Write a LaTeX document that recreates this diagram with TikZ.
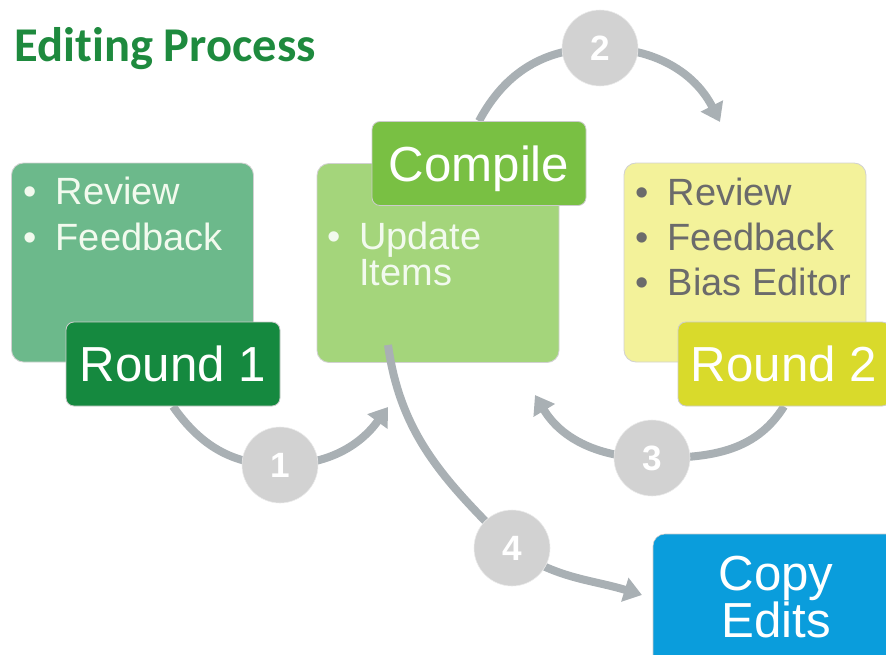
\documentclass[tikz,border=0pt]{standalone}
\usepackage{fontspec}
\setmainfont{Liberation Sans}
\newfontfamily\headfont[Ligatures=NoCommon]{Carlito}
\usetikzlibrary{arrows.meta}

\definecolor{titlegreen}{HTML}{1E8A3E}
\definecolor{roneFill}{HTML}{6CB98B}
\definecolor{roneDark}{HTML}{15893F}
\definecolor{compFill}{HTML}{A4D57B}
\definecolor{compDark}{HTML}{79C043}
\definecolor{rtwoFill}{HTML}{F3F29A}
\definecolor{rtwoDark}{HTML}{D9DA2B}
\definecolor{copyBlue}{HTML}{0A9DDC}
\definecolor{numGray}{HTML}{D2D2D2}
\definecolor{flowGray}{HTML}{A9B0B4}
\definecolor{lightText}{HTML}{F2FAEE}
\definecolor{darkText}{HTML}{6B6B6B}

\newlength\pxu
\setlength\pxu{0.025cm}
\newcommand\bul{\makebox[32\pxu][l]{\textbullet}}
\newcommand\nobul{\makebox[32\pxu][l]{}}

\pgfdeclarelayer{back}
\pgfdeclarelayer{front}
\pgfsetlayers{back,main,front}

\begin{document}
\begin{tikzpicture}[x=0.025cm, y=0.025cm, >={Triangle[length=0.45cm,width=0.6cm]},
    box/.style={rounded corners=0.3cm, draw=black!18, line width=0.6pt,
        minimum width=242\pxu, minimum height=199\pxu, inner sep=0pt},
    tag/.style={rounded corners=0.2cm, draw=black!20, line width=0.6pt, text=white,
        minimum width=214\pxu, minimum height=84\pxu, inner sep=0pt,
        font=\fontsize{35}{33}\selectfont, text height=25pt, text depth=0pt},
    item/.style={anchor=base west, inner sep=0pt, font=\fontsize{27}{32}\selectfont},
    num/.style={circle, fill=numGray, draw=black!8, minimum size=76\pxu, inner sep=0pt,
        text=white, font=\bfseries\fontsize{25}{25}\selectfont},
    flow/.style={draw=flowGray, line width=0.2cm, ->}]
        \useasboundingbox (0,0) rectangle (886,654);
        \clip (0,0) rectangle (886,654);

        % Title
        \node[anchor=base west, inner sep=0pt, text=titlegreen,
            font=\headfont\bfseries\fontsize{34.5}{40}\selectfont] (title) at (14,592) {Editing Process};

        % Round 1
        \node[box, fill=roneFill] (r1box) at (132.5,391.5) {};
        \foreach \txt [count=\i] in {Review, Feedback} {
            \node[item, text=lightText] (r1item\i) at (23.5,{496-46*\i}) {\bul\txt};
        }
        \node[tag, fill=roneDark] (r1tag) at (173,290) {Round 1};

        % Compile
        \node[box, fill=compFill] (cbox) at (438,391) {};
        \node[item, text=lightText] (cupdate) at (327,405) {\bul Update};
        \node[item, text=lightText] (citems) at (327,369) {\nobul Items};
        \node[tag, fill=compDark] (ctag) at (479,490.5) {Compile};

        % Round 2
        \node[box, fill=rtwoFill] (r2box) at (745,391.5) {};
        \foreach \txt [count=\i] in {Review, Feedback, Bias Editor} {
            \node[item, text=darkText] (r2item\i) at (635.5,{494-45*\i}) {\bul\txt};
        }
        \node[tag, fill=rtwoDark, minimum width=212\pxu] (r2tag) at (784,290) {Round 2};

        % Copy edits
        \node[rounded corners=0.3cm, draw=black!20, fill=copyBlue,
            minimum width=246\pxu, minimum height=136\pxu, inner sep=0pt] (copy) at (776,52) {};
        \foreach \txt [count=\i] in {Copy, Edits} {
            \node[anchor=base, inner sep=0pt, text=white, font=\fontsize{35}{33}\selectfont]
                (copy\i) at (776,{111-47*\i}) {\txt};
        }

        % Numbered steps
        \begin{pgfonlayer}{front}
            \node[num] (n1) at (280,189) {1};
            \node[num] (n2) at (600,606) {2};
            \node[num] (n3) at (652,196) {3};
            \node[num] (n4) at (512,106) {4};
        \end{pgfonlayer}

        % Arrows
        \coordinate (e1) at (388,247);
        \coordinate (e2) at (720,532);
        \coordinate (e3) at (535,259);
        \coordinate (s4) at (388,309);
        \coordinate (e4) at (642,59);
        \begin{pgfonlayer}{back}
            \draw[flow] (r1tag.south) to[out=-55,in=180] (n1.center) to[out=0,in=-126] (e1);
            \draw[flow] (ctag.north) to[out=62,in=180] (n2.center) to[out=0,in=117] (e2);
            \draw[flow] (r2tag.south) to[out=-122,in=0] (n3.center) to[out=180,in=-59] (e3);
        \end{pgfonlayer}
        \draw[flow] (s4) to[out=-82,in=135] (n4.center) to[out=-35,in=163] (e4);

\end{tikzpicture}
\end{document}
